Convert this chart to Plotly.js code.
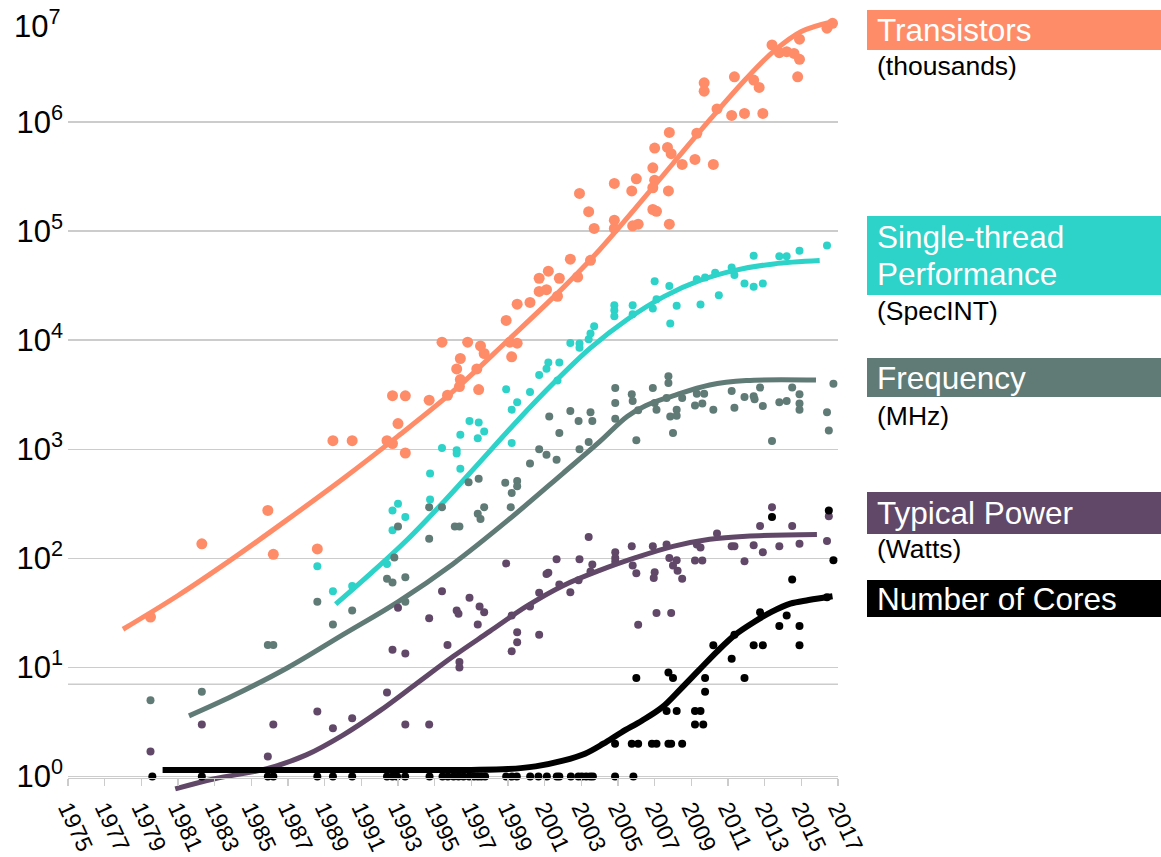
<!DOCTYPE html>
<html>
<head>
<meta charset="utf-8">
<script src="https://cdn.plot.ly/plotly-3.0.1.min.js"></script>
<style>
html,body{margin:0;padding:0;background:#fff;}
#chart{width:1161px;height:857px;}
</style>
</head>
<body>
<div id="chart"></div>
<script>
// ---------- DATA ----------
const tickYears = [1975,1977,1979,1981,1983,1985,1987,1989,1991,1993,1995,1997,1999,2001,2003,2005,2007,2009,2011,2013,2015,2017];
const yTickVals = [1,10,100,1000,10000,100000,1000000];
const yTickText = ['10<sup>0</sup>','10<sup>1</sup>','10<sup>2</sup>','10<sup>3</sup>','10<sup>4</sup>','10<sup>5</sup>','10<sup>6</sup>'];
const topTickVal = 10000000;
const topTickText = '10<sup>7</sup>';

// Transistors (thousands)
const transYears = [1979.5,1982.3,1985.9,1986.2,1988.6,1989.45,1990.5,1992.4,1992.7,1993.0,1993.4,1992.7,1993.4,1994.7,1995.4,1996.8,1995.7,1996.2,1996.4,1996.4,1996.35,1997.3,1997.4,1997.5,1997.7,1998.9,1999.2,1999.1,1999.5,1999.5,2000.2,2000.7,2000.7,2001.1,2001.2,2001.8,2001.7,2002.4,2002.8,2003.5,2002.9,2003.4,2003.7,2004.8,2004.8,2004.8,2005.75,2006.0,2005.8,2006.1,2006.9,2007.0,2006.9,2007.0,2006.9,2007.1,2007.7,2007.8,2007.9,2007.75,2007.8,2008.5,2009.2,2009.3,2010.2,2009.7,2009.7,2010.4,2011.2,2011.35,2011.9,2012.4,2012.7,2012.9,2013.4,2013.8,2014.2,2014.6,2014.9,2014.9,2014.8,2016.4,2016.7];
const transVals = [29,136,275,109,122,1200,1200,1200,1130,1720,925,3100,3090,2820,9600,9600,3130,5460,6800,4360,3760,5460,3530,8870,7560,15200,7040,9600,9400,21400,22200,37000,28000,29100,43000,37000,25300,55300,38000,54000,222000,151000,106000,274000,126000,106000,234000,302000,112000,116000,381000,293000,250000,578000,158000,152000,585000,803000,513000,234000,116000,409000,455000,790000,409000,2290000,1920000,1320000,1150000,2600000,1200000,2430000,2080000,1200000,5100000,4330000,4420000,4260000,3760000,5750000,2600000,7250000,8040000];
const transTrendYears = [1978,1981,1984,1987,1990,1993,1996,1999,2002,2004,2006,2008,2010,2012,2013.5,2015,2016.7];
const transTrendVals = [22.4,45.7,100,229,537,1320,3390,10000,30200,67600,166000,417000,1047000,2512000,4467000,6761000,8318000];

// Single-thread performance (SpecINT)
const perfYears = [1988.6,1989.45,1990.5,1992.4,1992.7,1992.7,1993.0,1993.4,1994.75,1994.75,1995.4,1996.2,1996.2,1996.4,1996.4,1996.9,1997.4,1997.7,1997.35,1998.9,1999.2,1999.5,1999.2,2000.2,2000.7,2001.1,2001.2,2001.8,2001.7,2002.4,2002.9,2002.9,2003.4,2003.5,2003.7,2004.8,2004.8,2004.8,2005.8,2005.8,2007.0,2007.1,2006.9,2007.8,2007.85,2008.2,2009.3,2009.75,2009.5,2010.3,2010.5,2011.2,2011.35,2011.9,2012.4,2012.4,2012.9,2013.8,2014.2,2014.9,2016.4];
const perfVals = [84.6,50,55.7,89,181,275,317,239,600,346,1030,980,915,1360,665,1820,1760,1460,1260,3550,2310,2700,1140,3350,4790,5480,6240,6240,4280,9440,9330,8520,10200,11500,13400,20900,18800,16600,20900,17300,34800,23800,19500,31500,14200,20700,36200,37600,21300,41600,25900,46500,39700,33100,59400,30900,33100,59000,59000,66000,74000];
const perfTrendYears = [1989.6,1991.5,1993.5,1995.5,1997.5,1999.5,2001.5,2003.5,2005.5,2007.5,2009.5,2011.5,2013.5,2016.0];
const perfTrendVals = [38,72.4,148,331,776,1820,4070,8510,15500,25100,35500,44200,50100,53700];

// Frequency (MHz)
const freqYears = [1979.5,1982.3,1985.9,1986.2,1988.6,1989.45,1990.5,1992.4,1992.7,1992.8,1993.0,1993.4,1993.4,1994.7,1994.7,1995.4,1996.1,1996.35,1996.85,1997.4,1997.35,1997.5,1997.7,1998.85,1999.2,1999.5,1999.5,1999.15,2000.2,2000.7,2001.1,2001.25,2001.65,2001.8,2002.4,2002.85,2002.9,2003.5,2003.6,2003.4,2004.85,2004.85,2004.85,2005.75,2005.8,2006.0,2006.1,2006.9,2007.0,2007.1,2007.75,2007.75,2007.65,2007.85,2008.0,2008.2,2008.2,2008.5,2009.2,2009.3,2009.6,2009.7,2010.2,2011.2,2011.35,2011.9,2012.4,2012.45,2012.75,2012.9,2013.4,2013.8,2014.2,2014.5,2014.9,2014.9,2014.9,2016.4,2016.5,2016.75];
const freqVals = [5.0,6.0,16.1,16.1,40,24.8,33.2,65,60,102,196,67,40,295,151,295,196,196,500,538,257,230,295,494,398,512,459,295,741,1000,890,2000,804,1410,2240,1820,1000,2190,1820,1170,3640,2660,1910,3200,2770,1210,2280,3640,2660,2300,4680,4060,2960,2000,1410,2300,2030,2960,2520,3230,2630,3230,2300,3430,2400,3020,3060,2870,3680,2490,1190,2700,2770,3680,3200,2630,2300,2190,1490,3990];
const freqTrendYears = [1981.6,1984,1987,1990,1993,1996,1999,2002,2004,2005.5,2006.5,2008,2010,2012,2015.8];
const freqTrendVals = [3.6,5.5,10,20,40,89,224,603,1175,2000,2510,3090,3890,4270,4310];

// Typical power (Watts)
const powerYears = [1979.5,1982.3,1985.9,1986.2,1988.6,1989.45,1990.5,1992.4,1992.7,1993.0,1993.4,1993.4,1994.7,1994.7,1995.4,1995.7,1996.2,1996.3,1996.35,1996.35,1996.9,1997.35,1997.45,1997.7,1998.9,1999.2,1999.5,1999.5,1999.2,2000.2,2000.7,2000.7,2001.1,2001.2,2001.65,2001.8,2002.4,2002.9,2002.85,2003.6,2003.5,2003.4,2004.85,2004.85,2004.85,2005.75,2005.8,2006.0,2006.1,2006.9,2007.0,2006.95,2007.1,2007.65,2007.8,2008.0,2008.2,2008.25,2008.5,2007.9,2009.2,2009.6,2009.3,2009.5,2010.4,2011.2,2011.35,2011.9,2012.4,2012.75,2012.9,2013.4,2013.8,2014.5,2014.9,2016.4,2016.5];
const powerVals = [1.7,3.0,1.53,3.0,3.95,2.77,3.43,5.9,14.5,35.3,13.4,3.0,3.0,28.3,50,16.1,33.2,31,11.2,10,43.6,24.8,36.3,32,90,29.9,21,17,14.1,36.3,48.4,20,72,74,98,57.5,49,98,63,88,76,157,114,101,93,129,86,73,24.6,129,74.6,66,31.5,134,101,86,96,77,65,31.5,95.6,95.6,134,126,169,129,129,94,132,198,114,295,129,198,136,144,243];
const powerTrendYears = [1980.85,1983,1985.85,1988,1990,1992,1994,1996,1998,2000,2002,2004,2006,2008,2010,2012,2015.85];
const powerTrendVals = [0.77,0.955,1.18,1.58,2.4,4.0,7.1,12.6,21.4,36.3,56.2,77.6,102,129,150,160,166];

// Number of cores
const coreYears = [1979.6,1982.3,1985.9,1986.2,1988.6,1989.45,1990.5,1992.4,1992.7,1992.95,1993.39,1994.72,1995.43,1995.72,1996.03,1996.3,1996.57,1996.88,1997.15,1997.36,1997.54,1997.75,1998.9,1999.21,1999.48,2000.21,2000.66,2001.12,2001.66,2001.8,2002.43,2002.84,2003.03,2003.26,2003.48,2003.63,2004.84,2005.84,2004.84,2005.75,2006.1,2006.0,2006.85,2007.1,2007.75,2007.9,2008.5,2007.75,2008.0,2007.65,2008.2,2009.2,2009.5,2009.2,2009.65,2009.75,2009.75,2010.2,2011.2,2011.35,2011.9,2012.4,2012.9,2012.75,2013.4,2013.8,2014.2,2014.5,2014.9,2014.9,2016.4,2016.5,2016.75];
const coreVals = [1,1,1,1,1,1,1,1,1,1,1,1,1,1,1,1,1,1,1,1,1,1,1,1,1,1,1,1,1,1,1,1,1,1,1,1,1,1,2,2,2,8,2,2,2,2,2,9,8,4,4,4,4,3,3,8,6,16,12,20,8,16,16,32,240,24,30,64,24,16,44,275,96];
const coreTrendYears = [1980.16,1986,1992,1997,1999,2000.5,2002,2003.2,2004.2,2005.2,2006.3,2007.4,2008.4,2009.4,2010.4,2011.4,2012.4,2013.4,2014.4,2015.4,2016.7];
const coreTrendVals = [1.15,1.15,1.15,1.15,1.17,1.24,1.40,1.62,2.0,2.55,3.25,4.3,6.3,9.4,14,20,26,32.5,38.5,41.5,45];

const seriesLabels = ['Transistors','Single-thread','Performance','Frequency','Typical Power','Number of Cores'];
const seriesUnits = ['(thousands)','(SpecINT)','(MHz)','(Watts)'];

// ---------- STYLE ----------
const C = {trans:'#FF8C69', perf:'#2DD2C8', freq:'#607A75', power:'#614868', cores:'#000000'};
const FONT = 'Liberation Sans, Arial, Helvetica, sans-serif';

const W = 1161, H = 857;
const M = {l:68, r:323, t:13, b:63};
const PW = W - M.l - M.r, PH = H - M.t - M.b;
const px = X => (X - M.l) / PW;
const py = Y => (H - M.b - Y) / PH;

function dots(x, y, color, size){
  return {x:x, y:y, type:'scatter', mode:'markers', cliponaxis:false, hoverinfo:'skip',
          marker:{color:color, size:size, line:{width:0}}, showlegend:false};
}
function trend(x, y, color, width){
  return {x:x, y:y, type:'scatter', mode:'lines', hoverinfo:'skip',
          line:{color:color, width:width, shape:'spline', smoothing:1}, showlegend:false};
}

const data = [
  dots(transYears, transVals, C.trans, 11), trend(transTrendYears, transTrendVals, C.trans, 5),
  dots(perfYears, perfVals, C.perf, 8), trend(perfTrendYears, perfTrendVals, C.perf, 5),
  dots(freqYears, freqVals, C.freq, 8), trend(freqTrendYears, freqTrendVals, C.freq, 5),
  dots(powerYears, powerVals, C.power, 8), trend(powerTrendYears, powerTrendVals, C.power, 5),
  dots(coreYears, coreVals, C.cores, 8), trend(coreTrendYears, coreTrendVals, C.cores, 6)
];

// legend boxes (pixel geometry)
const boxes = [
  {y0:10, y1:50, color:C.trans},
  {y0:216, y1:295, color:C.perf},
  {y0:358, y1:397, color:C.freq},
  {y0:492, y1:534, color:C.power},
  {y0:580, y1:617, color:C.cores}
];
const labelY = [30, 237, 274, 378, 513, 599];
const unitY = [66, 311, 416, 549];

const shapes = boxes.map(b => ({type:'rect', xref:'paper', yref:'paper', x0:px(867), x1:px(1161),
  y0:py(b.y1), y1:py(b.y0), fillcolor:b.color, line:{width:0}, layer:'above'}));
// top gridline (10^7)
shapes.push({type:'line', xref:'paper', yref:'y', x0:0, x1:1, y0:Math.log10(topTickVal), y1:Math.log10(topTickVal),
  line:{color:'#cccccc', width:1.5}, layer:'below'});

const annotations = [];
seriesLabels.forEach((t,i) => annotations.push({text:t, xref:'paper', yref:'paper', x:px(875), y:py(labelY[i]),
  xanchor:'left', yanchor:'middle', showarrow:false, font:{family:FONT, size:31.5, color:'#ffffff'}}));
seriesUnits.forEach((t,i) => annotations.push({text:t, xref:'paper', yref:'paper', x:px(875), y:py(unitY[i]),
  xanchor:'left', yanchor:'middle', showarrow:false, font:{family:FONT, size:26.5, color:'#000000'}}));
annotations.push({text:topTickText, xref:'paper', yref:'paper', x:px(63), y:py(24), xanchor:'right', yanchor:'middle',
  showarrow:false, font:{family:FONT, size:31, color:'#000'}});

const layout = {
  width:W, height:H,
  margin:M,
  paper_bgcolor:'#ffffff', plot_bgcolor:'#ffffff',
  font:{family:FONT, color:'#000'},
  showlegend:false,
  xaxis:{range:[1975,2017], tickvals:tickYears, ticktext:tickYears.map(String), tickangle:65,
         tickfont:{family:FONT, size:23, color:'#000'}, showgrid:false, zeroline:false,
         showline:true, linecolor:'#cccccc', linewidth:1.5, ticks:'outside', ticklen:7,
         tickcolor:'#cccccc', tickwidth:1.5, anchor:'free', position:py(777.5)},
  yaxis:{type:'log', range:[-0.16, 7.0], tickvals:yTickVals, ticktext:yTickText,
         tickfont:{family:FONT, size:31, color:'#000'}, showgrid:true, gridcolor:'#cccccc', gridwidth:1.5,
         zeroline:false, showline:false, ticks:'', ticklabelstandoff:4},
  shapes:shapes,
  annotations:annotations
};

Plotly.newPlot('chart', data, layout, {staticPlot:true, displayModeBar:false});
</script>
</body>
</html>
